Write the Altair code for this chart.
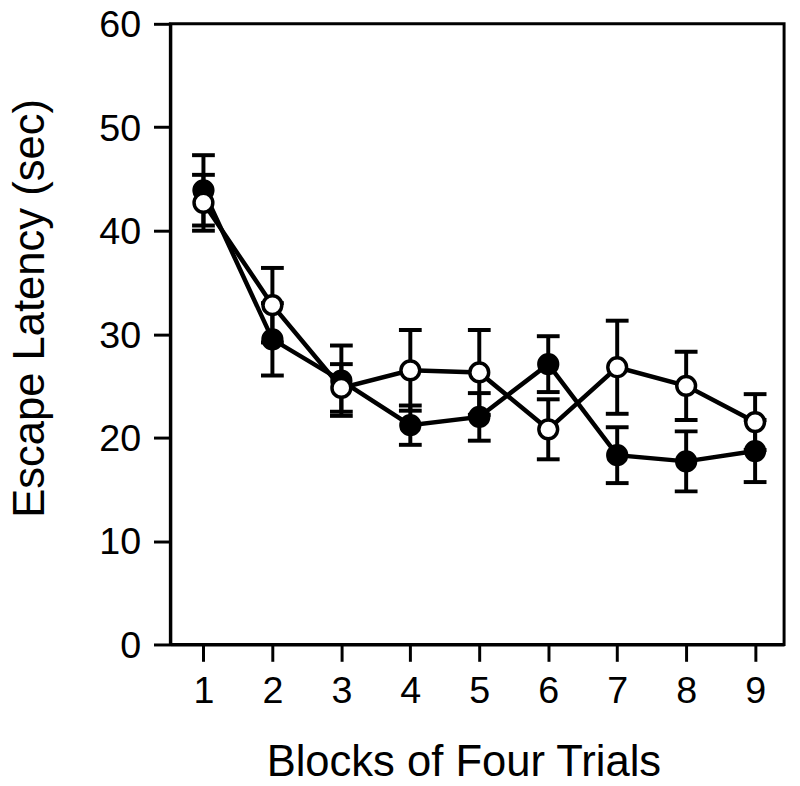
import altair as alt
import pandas as pd

blocks = [1, 2, 3, 4, 5, 6, 7, 8, 9]
filled_mean = [43.9, 29.5, 25.5, 21.2, 22.0, 27.1, 18.3, 17.7, 18.7]
filled_sem = [3.4, 3.5, 3.4, 1.9, 2.3, 2.7, 2.7, 2.9, 3.0]
open_mean = [42.7, 32.8, 24.8, 26.5, 26.3, 20.8, 26.8, 25.0, 21.5]
open_sem = [2.7, 3.6, 2.3, 3.9, 4.1, 2.9, 4.5, 3.3, 2.7]
y_ticks = [0, 10, 20, 30, 40, 50, 60]

rows = []
for b, m, s in zip(blocks, filled_mean, filled_sem):
    rows.append({"block": b, "group": "filled", "mean": m, "lo": m - s, "hi": m + s})
for b, m, s in zip(blocks, open_mean, open_sem):
    rows.append({"block": b, "group": "open", "mean": m, "lo": m - s, "hi": m + s})
df = pd.DataFrame(rows)

FONT = "Liberation Sans"

xscale = alt.Scale(domain=[0.52, 9.42], nice=False, zero=False)
yscale = alt.Scale(domain=[0, 60], nice=False)

xaxis = alt.Axis(values=blocks, format="d", title="Blocks of Four Trials",
                 titleX=296, titleY=132, titleAlign="center", titleBaseline="alphabetic",
                 labelPadding=12)
yaxis = alt.Axis(values=y_ticks, title="Escape Latency (sec)", titleAngle=270,
                 titleX=-128, titleY=287, titleAlign="center", titleBaseline="alphabetic",
                 labelPadding=13, labelOffset=2)

def X():
    return alt.X("block:Q", scale=xscale, axis=xaxis)

base = alt.Chart(df)

rules = base.mark_rule(strokeWidth=4, color="black").encode(
    x=X(), y=alt.Y("lo:Q", scale=yscale, axis=yaxis), y2="hi:Q")
caps_hi = base.mark_tick(orient="horizontal", size=23, thickness=4, color="black", opacity=1).encode(
    x=X(), y=alt.Y("hi:Q", scale=yscale, axis=yaxis))
caps_lo = base.mark_tick(orient="horizontal", size=23, thickness=4, color="black", opacity=1).encode(
    x=X(), y=alt.Y("lo:Q", scale=yscale, axis=yaxis))
lines = base.mark_line(strokeWidth=4.5, color="black").encode(
    x=X(), y=alt.Y("mean:Q", scale=yscale, axis=yaxis), detail="group:N")
pts_filled = base.transform_filter(alt.datum.group == "filled").mark_circle(
    size=360, fill="black", stroke="black", strokeWidth=3.5, opacity=1).encode(
    x=X(), y=alt.Y("mean:Q", scale=yscale, axis=yaxis))
pts_open = base.transform_filter(alt.datum.group == "open").mark_circle(
    size=360, fill="white", stroke="black", strokeWidth=3.5, opacity=1).encode(
    x=X(), y=alt.Y("mean:Q", scale=yscale, axis=yaxis))

chart = alt.layer(rules, caps_hi, caps_lo, lines, pts_filled, pts_open).properties(
    width=620, height=627,
    autosize=alt.AutoSizeParams(type="none"),
    padding={"left": 164, "top": 12, "right": 8, "bottom": 139},
).configure_view(stroke="black", strokeWidth=3).configure_axis(
    grid=False, domainColor="black", domainWidth=3, tickColor="black", tickWidth=3,
    tickSize=17, labelColor="black", titleColor="black", labelFont=FONT, titleFont=FONT,
    labelFontSize=38, titleFontSize=44, labelFontWeight="normal", titleFontWeight="normal",
)

chart.save("out.html", embed_options={"renderer": "svg", "actions": False})
